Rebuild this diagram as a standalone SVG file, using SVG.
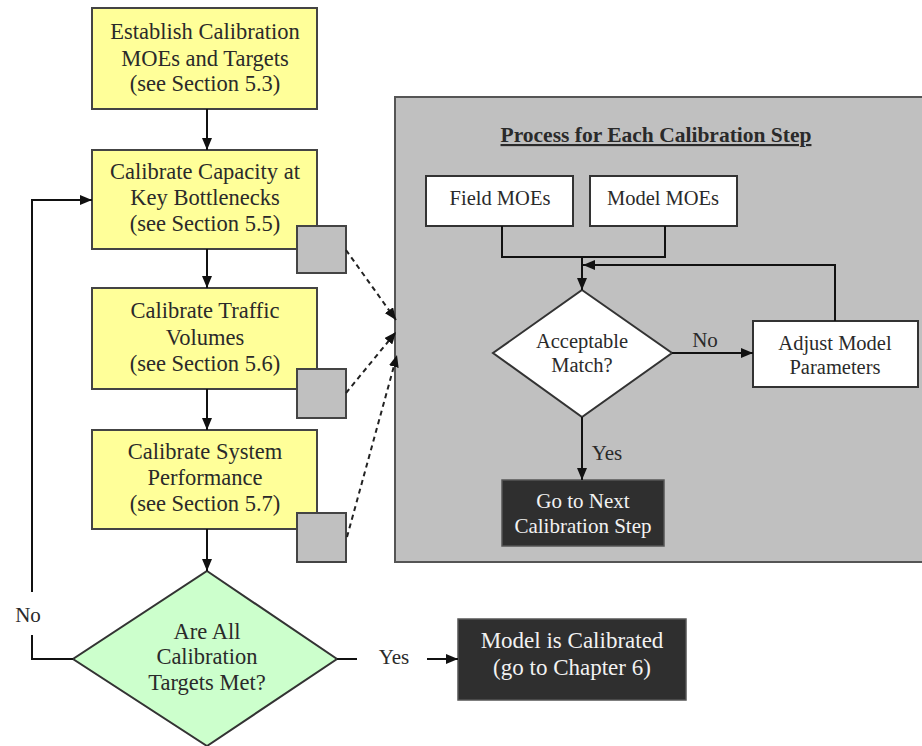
<svg xmlns="http://www.w3.org/2000/svg" width="922" height="746" viewBox="0 0 922 746" font-family="'Liberation Serif', 'DejaVu Serif', serif">
<defs>
<marker id="ah" viewBox="0 0 12 10" refX="12" refY="5" markerWidth="12" markerHeight="10" markerUnits="userSpaceOnUse" orient="auto">
<path d="M0,0 L12,5 L0,10 Z" fill="#111"/>
</marker>
<style>
text{font-family:'Liberation Serif','DejaVu Serif',serif;fill:#2a2a2a;text-anchor:middle}
.y rect{fill:#FFFF99;stroke:#444;stroke-width:2}
.y text{font-size:22.5px}
.sq{fill:#C0C0C0;stroke:#444;stroke-width:2}
.w rect,.w polygon{fill:#fff;stroke:#333;stroke-width:2}
.w text{font-size:20.5px}
.d rect{fill:#2f2f2f;stroke:#555;stroke-width:1.5}
.d text{fill:#f2f2f2}
.ln{fill:none;stroke:#111;stroke-width:2}
.ds{fill:none;stroke:#222;stroke-width:2;stroke-dasharray:5,4}
.lbl{font-size:21px}
</style>
</defs>

<g id="panel">
<rect x="395" y="97" width="540" height="465" fill="#C0C0C0" stroke="#555" stroke-width="2"/>
<text x="656" y="142" font-size="21.5" font-weight="bold" text-decoration="underline">Process for Each Calibration Step</text>
</g>

<g id="establish" class="y">
<rect x="92" y="8" width="225" height="101"/>
<text x="205" y="39">Establish Calibration</text>
<text x="205" y="66">MOEs and Targets</text>
<text x="205" y="91">(see Section 5.3)</text>
</g>

<g id="capacity" class="y">
<rect x="92" y="150" width="225" height="99"/>
<text x="205" y="179">Calibrate Capacity at</text>
<text x="205" y="205">Key Bottlenecks</text>
<text x="205" y="231">(see Section 5.5)</text>
</g>
<rect id="sq1" class="sq" x="297" y="226" width="49" height="47"/>

<g id="volumes" class="y">
<rect x="92" y="288" width="225" height="101"/>
<text x="205" y="318">Calibrate Traffic</text>
<text x="205" y="345">Volumes</text>
<text x="205" y="371">(see Section 5.6)</text>
</g>
<rect id="sq2" class="sq" x="297" y="369" width="49" height="49"/>

<g id="performance" class="y">
<rect x="92" y="430" width="225" height="99"/>
<text x="205" y="459">Calibrate System</text>
<text x="205" y="485">Performance</text>
<text x="205" y="511">(see Section 5.7)</text>
</g>
<rect id="sq3" class="sq" x="297" y="513" width="49" height="49"/>

<g id="targets-met">
<polygon points="207,571 337,659 207,746 73,659" fill="#CCFFCC" stroke="#333" stroke-width="2"/>
<text x="207" y="639" font-size="22.5">Are All</text>
<text x="207" y="664" font-size="22.5">Calibration</text>
<text x="207" y="690" font-size="22.5">Targets Met?</text>
</g>

<g id="calibrated" class="d">
<rect x="458" y="619" width="228" height="81"/>
<text x="572" y="648" font-size="23">Model is Calibrated</text>
<text x="572" y="675" font-size="23">(go to Chapter 6)</text>
</g>

<g id="field-moes" class="w">
<rect x="426" y="176" width="147" height="50"/>
<text x="500" y="205">Field MOEs</text>
</g>

<g id="model-moes" class="w">
<rect x="590" y="176" width="147" height="50"/>
<text x="663" y="205">Model MOEs</text>
</g>

<g id="acceptable" class="w">
<polygon points="582,290 672,353 582,417 493,353"/>
<text x="582" y="348">Acceptable</text>
<text x="582" y="372">Match?</text>
</g>

<g id="adjust" class="w">
<rect x="753" y="321" width="165" height="66"/>
<text x="835" y="350">Adjust Model</text>
<text x="835" y="374">Parameters</text>
</g>

<g id="next-step" class="d">
<rect x="502" y="480" width="162" height="66"/>
<text x="583" y="508" font-size="21">Go to Next</text>
<text x="583" y="533" font-size="21">Calibration Step</text>
</g>

<g id="connectors">
<line class="ln" x1="207" y1="109" x2="207" y2="150" marker-end="url(#ah)"/>
<line class="ln" x1="207" y1="249" x2="207" y2="288" marker-end="url(#ah)"/>
<line class="ln" x1="207" y1="389" x2="207" y2="430" marker-end="url(#ah)"/>
<line class="ln" x1="207" y1="529" x2="207" y2="571" marker-end="url(#ah)"/>
<polyline class="ln" points="73,659 32,659 32,635"/>
<polyline class="ln" points="32,592 32,200 92,200" marker-end="url(#ah)"/>
<text class="lbl" x="28" y="622" font-size="22">No</text>
<line class="ln" x1="337" y1="659" x2="357" y2="659"/>
<text class="lbl" x="394" y="664">Yes</text>
<line class="ln" x1="427" y1="659" x2="458" y2="659" marker-end="url(#ah)"/>
<line class="ds" x1="346" y1="250" x2="396" y2="320" marker-end="url(#ah)"/>
<line class="ds" x1="346" y1="393" x2="396" y2="332" marker-end="url(#ah)"/>
<line class="ds" x1="347" y1="537" x2="397" y2="355" marker-end="url(#ah)"/>
<polyline class="ln" points="502,226 502,257 665,257 665,226"/>
<line class="ln" x1="582" y1="257" x2="582" y2="290" marker-end="url(#ah)"/>
<polyline class="ln" points="835,321 835,265 583,265" marker-end="url(#ah)"/>
<line class="ln" x1="672" y1="353" x2="753" y2="353" marker-end="url(#ah)"/>
<text class="lbl" x="705" y="347">No</text>
<line class="ln" x1="582" y1="417" x2="582" y2="480" marker-end="url(#ah)"/>
<text class="lbl" x="607" y="460">Yes</text>
</g>
</svg>
